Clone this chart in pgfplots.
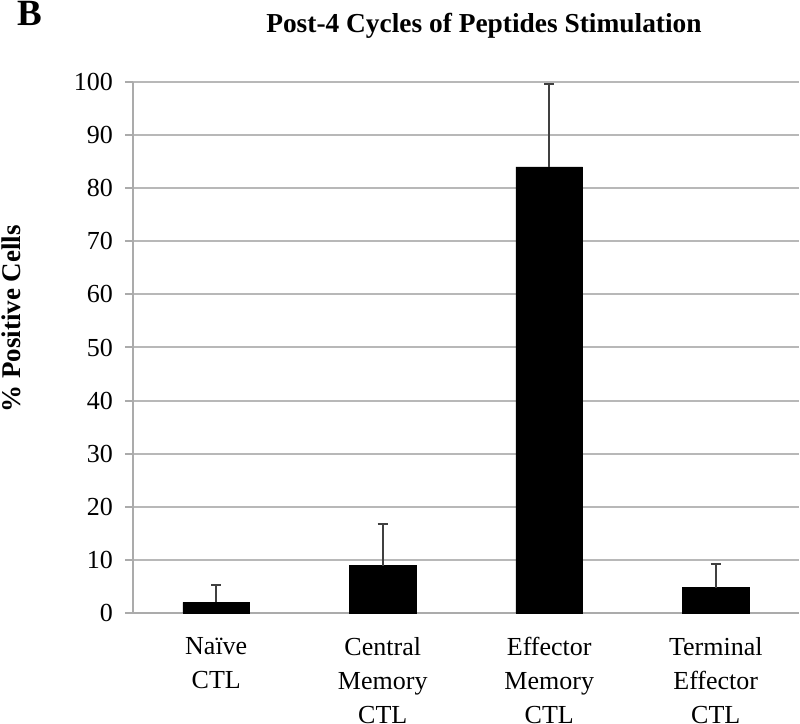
\documentclass[border=0pt]{standalone}
\usepackage{fontspec}
\setmainfont{Liberation Serif}
\usepackage{pgfplots}
\pgfplotsset{compat=1.18}
\usetikzlibrary{calc}
\definecolor{gridgray}{HTML}{B8B8B8}
\definecolor{axisgray}{HTML}{ABABAB}
\definecolor{errgray}{HTML}{404040}
\pgfplotstableread{
x y e
0 2.0 3.3
1 8.9 7.8
2 84.0 15.6
3 4.8 4.4
}\datatable
\begin{document}
\begin{tikzpicture}
\useasboundingbox (-66.5pt,-55.5pt) rectangle (333.5pt,306.5pt);
\begin{axis}[
  scale only axis, width=333pt, height=265.5pt,
  ybar, bar width=0.4,
  xmin=-0.5, xmax=3.5, ymin=0, ymax=100,
  enlargelimits=false,
  ytick={0,10,...,100},
  xtick={0,1,2,3},
  xticklabels={{Naïve\\CTL},{Central\\Memory\\CTL},{Effector\\Memory\\CTL},{Terminal\\Effector\\CTL}},
  xticklabel style={align=center, font=\fontsize{13}{17}\selectfont, anchor=north, yshift=-4.5pt},
  yticklabel style={font=\fontsize{13}{15.6}\selectfont, xshift=-2.5pt},
  /pgf/number format/assume math mode=true,
  major x tick style={draw=none},
  ytick style={axisgray, line width=1pt},
  tick align=outside, major tick length=4pt,
  ymajorgrids, grid style={gridgray, line width=1pt},
  axis x line*=bottom, axis y line*=left,
  axis line style={axisgray, line width=1pt},
  clip=false,
]
\addplot[fill=black, draw=black,
  error bars/.cd, y dir=plus, y explicit,
  error bar style={errgray, line width=0.9pt},
  error mark options={rotate=90, errgray, line width=0.9pt, mark size=2.5pt}]
  table[x=x, y=y, y error=e] {\datatable};
\node[anchor=base, font=\fontsize{13.7}{16}\selectfont\bfseries]
  at ($(rel axis cs:0.527,1)+(canvas cs:x=0pt,y=24.5pt)$) {Post-4 Cycles of Peptides Stimulation};
\node[anchor=base west, font=\fontsize{18.5}{20}\selectfont\bfseries]
  at ($(rel axis cs:0,1)+(canvas cs:x=-61.5pt,y=28pt)$) {B};
\node[rotate=90, anchor=center, font=\fontsize{13.5}{16}\selectfont\bfseries]
  at ($(rel axis cs:0,0.554)+(canvas cs:x=-61pt,y=0pt)$) {\% Positive Cells};
\end{axis}
\end{tikzpicture}
\end{document}
